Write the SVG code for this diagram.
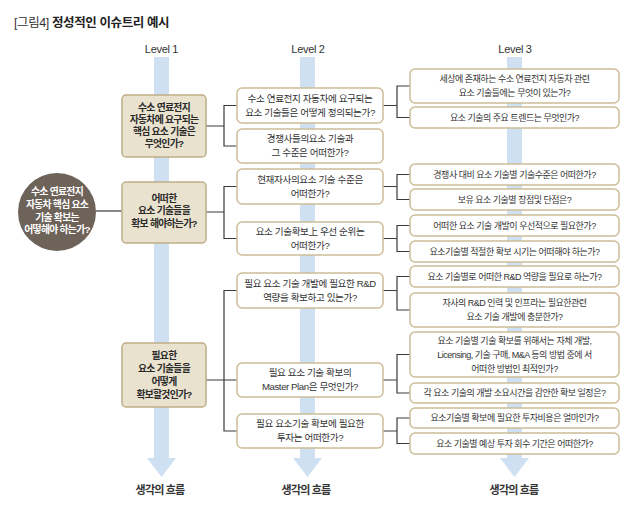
<svg xmlns="http://www.w3.org/2000/svg" width="640" height="506" viewBox="0 0 640 506">
<style>
text{font-family:'Liberation Sans','Noto Sans CJK KR',sans-serif;}
.col{fill:#cfe0f2;}
.l1{fill:#e9e2cf;stroke:#bfae88;stroke-width:1.5;}
.bx{fill:#fff;stroke:#cdbd98;stroke-width:1.5;}
.ln{fill:none;stroke:#3a3a3a;stroke-width:1.2;}
.t{font-size:9px;letter-spacing:-0.5px;fill:#333;text-anchor:middle;}
.t2{font-size:9.6px;letter-spacing:-0.4px;fill:#333;text-anchor:middle;}
.t1{font-size:9.8px;letter-spacing:-0.7px;font-weight:bold;fill:#2a2a2a;text-anchor:middle;}
.tc{font-size:9.8px;letter-spacing:-0.7px;font-weight:bold;fill:#fff;text-anchor:middle;}
.lv{font-size:11px;letter-spacing:-0.3px;fill:#333;text-anchor:middle;}
.ft{font-size:11px;letter-spacing:-0.8px;font-weight:bold;fill:#333;text-anchor:middle;}
</style>
<rect width="640" height="506" fill="#fff"/>
<text x="14" y="27" font-size="12.5" fill="#333" letter-spacing="-0.4"><tspan>[그림4] </tspan><tspan font-weight="bold" fill="#222">정성적인 이슈트리 예시</tspan></text>

<g id="flow">
<rect class="col" x="154" y="57" width="15" height="402"/>
<polygon class="col" points="147,458 176,458 161.5,477"/>
<rect class="col" x="300" y="57" width="15" height="402"/>
<polygon class="col" points="293,458 322,458 307.5,477"/>
<rect class="col" x="507" y="57" width="15" height="402"/>
<polygon class="col" points="500,458 529,458 514.5,477"/>
<text class="lv" x="161.5" y="53">Level 1</text>
<text class="lv" x="308" y="53">Level 2</text>
<text class="lv" x="515" y="53">Level 3</text>
<text class="ft" x="160" y="494">생각의 흐름</text>
<text class="ft" x="306" y="494">생각의 흐름</text>
<text class="ft" x="514" y="494">생각의 흐름</text>
</g>

<g id="connectors">
<path class="ln" d="M96 211H122"/>
<path class="ln" d="M206 126H224M237 105.5H224V146H237"/>
<path class="ln" d="M206 212H224M237 186.5H224V238.5H237"/>
<path class="ln" d="M206 380H237M237 290.5H224V431H237"/>
<path class="ln" d="M383 105.5H397M410 86H397V117.5H410"/>
<path class="ln" d="M383 186.5H397M410 174.5H397V199.5H410"/>
<path class="ln" d="M383 238.5H397M410 225.5H397V251.5H410"/>
<path class="ln" d="M383 290.5H397M410 276.5H397V310H410"/>
<path class="ln" d="M383 380H397M410 354.5H397V393H410"/>
<path class="ln" d="M383 431H397M410 418H397V443.5H410"/>
</g>

<g id="root">
<circle cx="57" cy="212" r="39" fill="#6d6359"/>
<text class="tc" x="57" y="195">수소 연료전지</text>
<text class="tc" x="57" y="208">자동차 핵심 요소</text>
<text class="tc" x="57" y="221">기술 확보는</text>
<text class="tc" x="57" y="233">어떻해야 하는가?</text>
</g>

<g id="l1-1">
<rect class="l1" x="122" y="95" width="84" height="62" rx="4"/>
<text class="t1" x="164" y="111">수소 연료전지</text>
<text class="t1" x="164" y="123">자동차에 요구되는</text>
<text class="t1" x="164" y="135">핵심 요소 기술은</text>
<text class="t1" x="164" y="147">무엇인가?</text>
</g>
<g id="l1-2">
<rect class="l1" x="122" y="182" width="84" height="61" rx="4"/>
<text class="t1" x="164" y="201.5">어떠한</text>
<text class="t1" x="164" y="214">요소 기술들을</text>
<text class="t1" x="164" y="226.5">확보 해야하는가?</text>
</g>
<g id="l1-3">
<rect class="l1" x="122" y="343" width="84" height="64" rx="4"/>
<text class="t1" x="164" y="359">필요한</text>
<text class="t1" x="164" y="372">요소 기술들을</text>
<text class="t1" x="164" y="385">어떻게</text>
<text class="t1" x="164" y="398">확보할것인가?</text>
</g>

<g id="l2-1">
<rect class="bx" x="237" y="88" width="146" height="35" rx="5"/>
<text class="t2" x="310" y="101.8">수소 연료전지 자동차에 요구되는</text>
<text class="t2" x="310" y="115.8">요소 기술들은 어떻게 정의되는가?</text>
</g>
<g id="l2-2">
<rect class="bx" x="237" y="129" width="146" height="34" rx="5"/>
<text class="t2" x="310" y="142.3">경쟁사들의요소 기술과</text>
<text class="t2" x="310" y="156.3">그 수준은 어떠한가?</text>
</g>
<g id="l2-3">
<rect class="bx" x="237" y="169" width="146" height="35" rx="5"/>
<text class="t2" x="310" y="182.8">현재자사의요소 기술 수준은</text>
<text class="t2" x="310" y="196.8">어떠한가?</text>
</g>
<g id="l2-4">
<rect class="bx" x="237" y="222" width="146" height="33" rx="5"/>
<text class="t2" x="310" y="234.8">요소 기술확보上 우선 순위는</text>
<text class="t2" x="310" y="248.8">어떠한가?</text>
</g>
<g id="l2-5">
<rect class="bx" x="237" y="273" width="146" height="35" rx="5"/>
<text class="t2" x="310" y="286.8">필요 요소 기술 개발에 필요한 R&amp;D</text>
<text class="t2" x="310" y="300.8">역량을 확보하고 있는가?</text>
</g>
<g id="l2-6">
<rect class="bx" x="237" y="363" width="146" height="34" rx="5"/>
<text class="t2" x="310" y="376.3">필요 요소 기술 확보의</text>
<text class="t2" x="310" y="390.3">Master Plan은 무엇인가?</text>
</g>
<g id="l2-7">
<rect class="bx" x="237" y="414" width="146" height="34" rx="5"/>
<text class="t2" x="310" y="427.3">필요 요소기술 확보에 필요한</text>
<text class="t2" x="310" y="441.3">투자는 어떠한가?</text>
</g>

<g id="l3-1">
<rect class="bx" x="410" y="69" width="209" height="34" rx="5"/>
<text class="t" x="514.5" y="82.3">세상에 존재하는 수소 연료전지 자동차 관련</text>
<text class="t" x="514.5" y="96.3">요소 기술들에는 무엇이 있는가?</text>
</g>
<g id="l3-2">
<rect class="bx" x="410" y="107" width="209" height="21" rx="5"/>
<text class="t" x="514.5" y="120.8">요소 기술의 주요 트렌드는 무엇인가?</text>
</g>
<g id="l3-3">
<rect class="bx" x="410" y="164" width="209" height="21" rx="5"/>
<text class="t" x="514.5" y="177.8">경쟁사 대비 요소 기술별 기술수준은 어떠한가?</text>
</g>
<g id="l3-4">
<rect class="bx" x="410" y="189" width="209" height="21" rx="5"/>
<text class="t" x="514.5" y="202.8">보유 요소 기술별 장점및 단점은?</text>
</g>
<g id="l3-5">
<rect class="bx" x="410" y="215" width="209" height="21" rx="5"/>
<text class="t" x="514.5" y="228.8">어떠한 요소 기술 개발이 우선적으로 필요한가?</text>
</g>
<g id="l3-6">
<rect class="bx" x="410" y="241" width="209" height="21" rx="5"/>
<text class="t" x="514.5" y="254.8">요소기술별 적절한 확보 시기는 어떠해야 하는가?</text>
</g>
<g id="l3-7">
<rect class="bx" x="410" y="266" width="209" height="21" rx="5"/>
<text class="t" x="514.5" y="279.8">요소 기술별로 어떠한 R&amp;D 역량을 필요로 하는가?</text>
</g>
<g id="l3-8">
<rect class="bx" x="410" y="293" width="209" height="34" rx="5"/>
<text class="t" x="514.5" y="306.3">자사의 R&amp;D 인력 및 인프라는 필요한관련</text>
<text class="t" x="514.5" y="320.3">요소 기술 개발에 충분한가?</text>
</g>
<g id="l3-9">
<rect class="bx" x="410" y="332" width="209" height="45" rx="5"/>
<text class="t" x="514.5" y="344.3">요소 기술별 기술 확보를 위해서는 자체 개발,</text>
<text class="t" x="514.5" y="358.3">Licensing, 기술 구매, M&amp;A 등의 방법 중에 서</text>
<text class="t" x="514.5" y="372.3">어떠한 방법인 최적인가?</text>
</g>
<g id="l3-10">
<rect class="bx" x="410" y="383" width="209" height="20" rx="5"/>
<text class="t" x="514.5" y="396.3">각 요소 기술의 개발 소요시간을 감안한 확보 일정은?</text>
</g>
<g id="l3-11">
<rect class="bx" x="410" y="408" width="209" height="20" rx="5"/>
<text class="t" x="514.5" y="421.3">요소기술별 확보에 필요한 투자비용은 얼마인가?</text>
</g>
<g id="l3-12">
<rect class="bx" x="410" y="433" width="209" height="21" rx="5"/>
<text class="t" x="514.5" y="446.8">요소 기술별 예상 투자 회수 기간은 어떠한가?</text>
</g>
</svg>
